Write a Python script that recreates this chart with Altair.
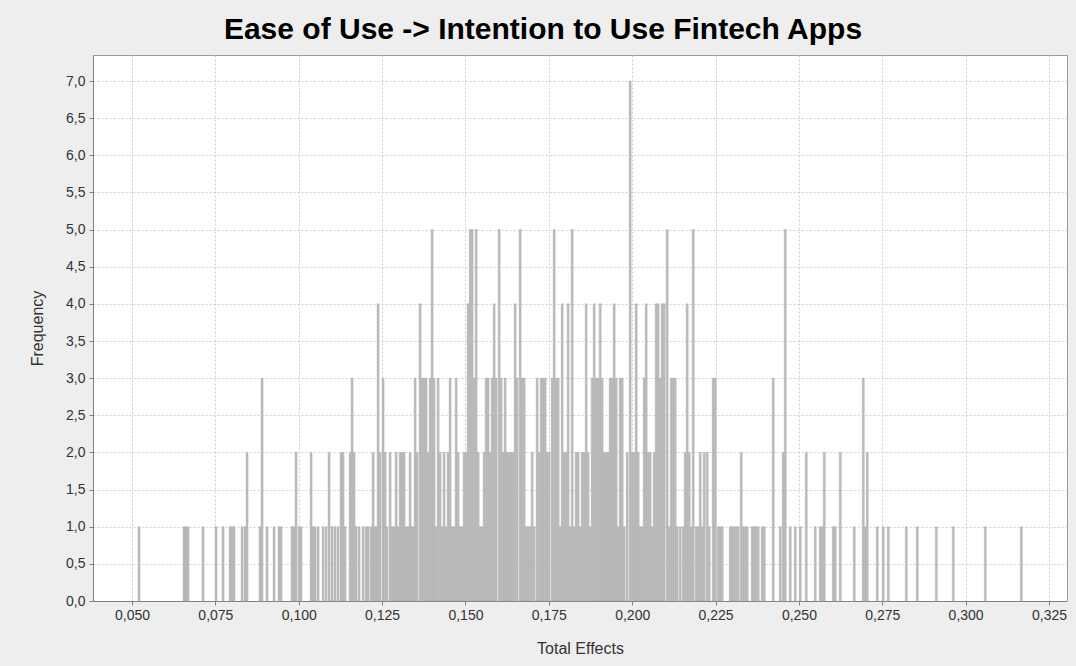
import altair as alt
import pandas as pd

# Bar centres (Total Effects) and counts
effects = [
    0.0521, 0.0656, 0.0662, 0.0668, 0.0713, 0.0752, 0.0773, 0.0794, 0.0800, 0.0806,
    0.0830, 0.0839, 0.0845, 0.0884, 0.0890, 0.0905, 0.0926, 0.0941, 0.0947, 0.0980,
    0.0986, 0.0992, 0.1001, 0.1007, 0.1037, 0.1043, 0.1049, 0.1058, 0.1073, 0.1082,
    0.1091, 0.1100, 0.1109, 0.1118, 0.1127, 0.1133, 0.1139, 0.1154, 0.1160, 0.1166,
    0.1172, 0.1181, 0.1193, 0.1202, 0.1208, 0.1217, 0.1223, 0.1229, 0.1232, 0.1238,
    0.1244, 0.1253, 0.1259, 0.1265, 0.1274, 0.1280, 0.1286, 0.1292, 0.1298, 0.1304,
    0.1310, 0.1316, 0.1322, 0.1328, 0.1334, 0.1340, 0.1343, 0.1349, 0.1355, 0.1364,
    0.1370, 0.1376, 0.1382, 0.1388, 0.1394, 0.1400, 0.1406, 0.1412, 0.1418, 0.1424,
    0.1430, 0.1436, 0.1442, 0.1448, 0.1454, 0.1460, 0.1466, 0.1472, 0.1478, 0.1484,
    0.1490, 0.1496, 0.1502, 0.1508, 0.1514, 0.1520, 0.1526, 0.1532, 0.1538, 0.1544,
    0.1550, 0.1556, 0.1562, 0.1568, 0.1574, 0.1580, 0.1586, 0.1592, 0.1601, 0.1607,
    0.1613, 0.1619, 0.1625, 0.1631, 0.1637, 0.1643, 0.1649, 0.1655, 0.1664, 0.1670,
    0.1676, 0.1682, 0.1688, 0.1694, 0.1700, 0.1706, 0.1715, 0.1721, 0.1727, 0.1733,
    0.1739, 0.1745, 0.1751, 0.1760, 0.1766, 0.1772, 0.1778, 0.1784, 0.1790, 0.1796,
    0.1802, 0.1808, 0.1814, 0.1820, 0.1826, 0.1832, 0.1838, 0.1844, 0.1850, 0.1856,
    0.1862, 0.1868, 0.1874, 0.1880, 0.1886, 0.1892, 0.1898, 0.1904, 0.1910, 0.1916,
    0.1922, 0.1928, 0.1934, 0.1940, 0.1946, 0.1952, 0.1958, 0.1964, 0.1970, 0.1976,
    0.1985, 0.1994, 0.2000, 0.2006, 0.2012, 0.2018, 0.2024, 0.2030, 0.2036, 0.2042,
    0.2048, 0.2054, 0.2060, 0.2066, 0.2072, 0.2078, 0.2084, 0.2090, 0.2096, 0.2105,
    0.2111, 0.2117, 0.2123, 0.2129, 0.2135, 0.2144, 0.2153, 0.2159, 0.2165, 0.2171,
    0.2177, 0.2183, 0.2192, 0.2198, 0.2204, 0.2210, 0.2216, 0.2225, 0.2231, 0.2243,
    0.2249, 0.2258, 0.2264, 0.2270, 0.2294, 0.2300, 0.2306, 0.2312, 0.2318, 0.2327,
    0.2333, 0.2339, 0.2345, 0.2360, 0.2366, 0.2372, 0.2378, 0.2390, 0.2396, 0.2423,
    0.2444, 0.2453, 0.2459, 0.2474, 0.2489, 0.2504, 0.2522, 0.2549, 0.2564, 0.2570,
    0.2576, 0.2603, 0.2609, 0.2624, 0.2666, 0.2693, 0.2699, 0.2705, 0.2735, 0.2753,
    0.2768, 0.2822, 0.2855, 0.2912, 0.2963, 0.3059, 0.3167,
]
counts = [
    1, 1, 1, 1, 1, 1, 1, 1, 1, 1,
    1, 1, 2, 1, 3, 1, 1, 1, 1, 1,
    1, 2, 1, 1, 2, 1, 1, 1, 1, 1,
    2, 1, 1, 1, 2, 2, 1, 2, 3, 2,
    1, 1, 1, 1, 1, 1, 2, 1, 1, 4,
    2, 3, 2, 1, 2, 1, 1, 2, 1, 2,
    2, 2, 1, 1, 2, 1, 1, 3, 2, 4,
    3, 3, 3, 2, 3, 5, 3, 1, 3, 2,
    1, 2, 1, 2, 3, 1, 1, 3, 2, 1,
    1, 2, 2, 4, 5, 5, 3, 5, 2, 1,
    1, 2, 3, 3, 2, 3, 4, 3, 5, 3,
    2, 3, 2, 2, 2, 2, 4, 3, 5, 3,
    3, 1, 1, 1, 2, 1, 3, 2, 3, 3,
    3, 2, 2, 3, 5, 3, 3, 1, 4, 2,
    2, 4, 1, 5, 1, 2, 2, 1, 2, 2,
    4, 2, 1, 3, 4, 3, 3, 4, 3, 2,
    2, 2, 3, 3, 4, 3, 1, 3, 3, 1,
    2, 7, 2, 2, 4, 2, 1, 1, 3, 4,
    2, 2, 1, 2, 4, 4, 3, 4, 4, 5,
    1, 3, 3, 3, 1, 1, 1, 2, 4, 2,
    1, 5, 1, 1, 2, 1, 2, 2, 1, 3,
    3, 1, 1, 1, 1, 1, 1, 1, 1, 2,
    1, 1, 1, 1, 1, 1, 1, 1, 1, 3,
    1, 2, 5, 1, 1, 1, 2, 1, 1, 1,
    2, 1, 1, 2, 1, 3, 1, 2, 1, 1,
    1, 1, 1, 1, 1, 1, 1,
]

x_ticks = [0.050, 0.075, 0.100, 0.125, 0.150, 0.175, 0.200, 0.225, 0.250, 0.275, 0.300, 0.325]
y_ticks = [0.0, 0.5, 1.0, 1.5, 2.0, 2.5, 3.0, 3.5, 4.0, 4.5, 5.0, 5.5, 6.0, 6.5, 7.0]

bin_width = 0.0006

df = pd.DataFrame({"effect": effects, "count": counts})

FONT = "Liberation Sans"

chart = (
    alt.Chart(df)
    .transform_calculate(
        lo=f"datum.effect - {bin_width / 2}",
        hi=f"datum.effect + {bin_width / 2}",
    )
    .mark_bar(color="#BCBCBC", stroke="#A8A8A8", strokeWidth=0.4)
    .encode(
        x=alt.X(
            "lo:Q",
            scale=alt.Scale(domain=[0.0383, 0.3304], nice=False, zero=False),
            axis=alt.Axis(
                title="Total Effects",
                values=x_ticks,
                labelExpr="replace(format(datum.value, '.3f'), '.', ',')",
            ),
        ),
        x2="hi:Q",
        y=alt.Y(
            "count:Q",
            scale=alt.Scale(domain=[0, 7.35], nice=False),
            axis=alt.Axis(
                title="Frequency",
                values=y_ticks,
                labelExpr="replace(format(datum.value, '.1f'), '.', ',')",
            ),
        ),
        y2=alt.datum(0),
    )
    .properties(
        width=974,
        height=546,
        title=alt.TitleParams(
            "Ease of Use -> Intention to Use Fintech Apps",
            font=FONT,
            fontSize=30,
            fontWeight="bold",
            color="#000000",
            anchor="middle",
            dx=-37,
            offset=10,
        ),
        background="#EEEEEE",
        padding={"left": 93, "top": 55, "right": 9, "bottom": 65},
        autosize=alt.AutoSizeParams(type="none"),
    )
    .configure_view(stroke="#999999", strokeWidth=1, fill="#FFFFFF")
    .configure_axis(
        labelFont=FONT,
        labelFontSize=14,
        labelColor="#333333",
        titleFont=FONT,
        titleFontSize=16,
        titleFontWeight="normal",
        titleColor="#333333",
        grid=True,
        gridColor="#D0D0D0",
        gridDash=[2, 2],
        gridWidth=1,
        domainColor="#808080",
        tickColor="#808080",
        tickSize=4,
    )
    .configure_axisX(labelPadding=3, titlePadding=18)
    .configure_axisY(labelPadding=4, titlePadding=20)
)

chart.save("out.html", embed_options={"renderer": "svg", "actions": False})
